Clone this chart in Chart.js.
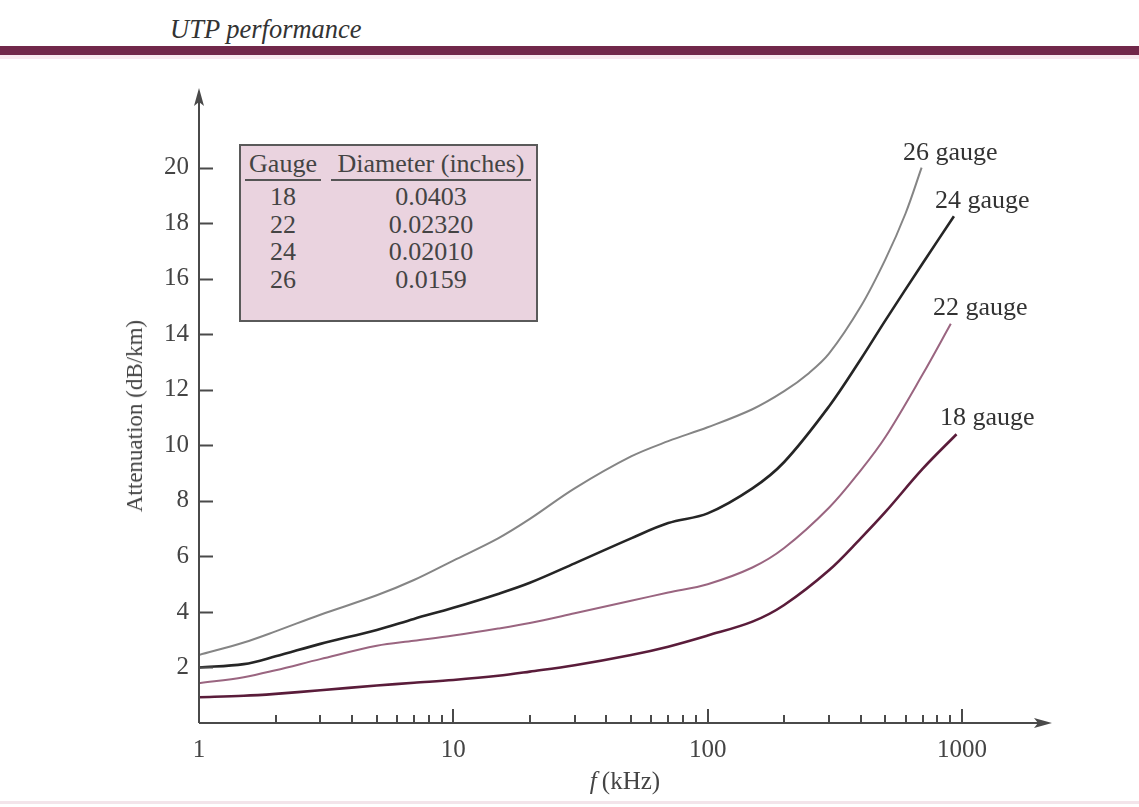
<!DOCTYPE html>
<html>
<head>
<meta charset="utf-8">
<script src="https://cdn.jsdelivr.net/npm/chart.js@4.4.1/dist/chart.umd.min.js"></script>
<style>
  body { margin: 0; background: #fff; font-family: 'Liberation Serif', 'DejaVu Serif', serif; color: #333; }
  #wrap { position: relative; width: 1139px; height: 807px; overflow: hidden; }
  #myChart { position: absolute; left: 0; top: 0; }
  .txt { position: absolute; white-space: nowrap; }
  #pageTitle { left: 170px; top: 14px; font-size: 26.5px; font-style: italic; color: #333; }
  #band { position: absolute; left: 0; top: 46px; width: 1139px; height: 9px; background: #71284a; }
  #bandShade { position: absolute; left: 0; top: 55px; width: 1139px; height: 4px; background: #f8e9ef; }
  #bottomLine { position: absolute; left: 0; top: 801px; width: 1139px; height: 3px; background: #f3e4ea; }
  #yTitle { left: 135px; top: 416px; font-size: 23px; color: #444; transform: translate(-50%, -50%) rotate(-90deg); }
  #xTitle { left: 625px; top: 781px; font-size: 25px; color: #444; transform: translate(-50%, -50%); }
  .gl { font-size: 26px; color: #333; transform: translateY(-50%); }
  #tbl { position: absolute; left: 239px; top: 144px; width: 295px; height: 174px; background: #ead3df; border: 2px solid #5a5a5a; }
  .cell { position: absolute; font-size: 26px; color: #444; text-align: center; transform: translateY(-50%); }
  .c1 { left: 4px; width: 76px; }
  .c2 { left: 90px; width: 200px; }
  .uline { position: absolute; top: 33px; height: 2px; background: #555; }
</style>
</head>
<body>
<div id="wrap">
  <div class="txt" id="pageTitle">UTP performance</div>
  <div id="band"></div>
  <div id="bandShade"></div>
  <div id="bottomLine"></div>
  <canvas id="myChart" width="1139" height="807"></canvas>
  <div class="txt" id="yTitle">Attenuation (dB/km)</div>
  <div class="txt" id="xTitle"><i>f</i>&thinsp;(kHz)</div>
  <div class="txt gl" style="left:903px;top:152px;">26 gauge</div>
  <div class="txt gl" style="left:935px;top:200px;">24 gauge</div>
  <div class="txt gl" style="left:933px;top:307px;">22 gauge</div>
  <div class="txt gl" style="left:940px;top:417px;">18 gauge</div>
  <div id="tbl"></div>
</div>
<script>
'use strict';

// table in the corner
const gauges = ['18', '22', '24', '26'];
const diameters = ['0.0403', '0.02320', '0.02010', '0.0159'];

// curves (f in kHz, attenuation dB/km)
const freq26 = [1, 1.5, 2, 3, 5, 7, 10, 15, 20, 30, 50, 70, 100, 150, 200, 250, 300, 400, 500, 600, 694];
const att26 = [2.45, 2.9, 3.3, 3.9, 4.6, 5.15, 5.85, 6.65, 7.35, 8.45, 9.6, 10.15, 10.65, 11.3, 11.95, 12.6, 13.3, 15.0, 16.7, 18.35, 20.0];

const freq24 = [1, 1.5, 2, 3, 5, 7, 10, 15, 20, 30, 50, 70, 100, 150, 200, 300, 400, 500, 700, 930];
const att24 = [2.0, 2.12, 2.4, 2.85, 3.35, 3.75, 4.15, 4.65, 5.05, 5.75, 6.65, 7.2, 7.55, 8.45, 9.4, 11.4, 13.1, 14.5, 16.55, 18.25];

const freq22 = [1, 1.5, 2, 3, 5, 7, 10, 15, 20, 30, 50, 70, 100, 150, 200, 300, 400, 500, 700, 904];
const att22 = [1.43, 1.65, 1.9, 2.3, 2.78, 2.96, 3.15, 3.4, 3.6, 3.95, 4.4, 4.7, 5.0, 5.6, 6.3, 7.75, 9.1, 10.3, 12.55, 14.38];

const freq18 = [1, 1.5, 2, 3, 5, 7, 10, 15, 20, 30, 50, 70, 100, 150, 200, 300, 400, 500, 700, 952];
const att18 = [0.93, 0.98, 1.05, 1.18, 1.35, 1.45, 1.55, 1.7, 1.85, 2.08, 2.45, 2.75, 3.15, 3.65, 4.25, 5.5, 6.65, 7.6, 9.15, 10.4];

const yTicks = [2, 4, 6, 8, 10, 12, 14, 16, 18, 20];
const xLabelTicks = [1, 10, 100, 1000];
const xMinorTicks = [2, 3, 4, 5, 6, 7, 8, 9, 20, 30, 40, 50, 60, 70, 80, 90, 200, 300, 400, 500, 600, 700, 800, 900];

function fillTable() {
    const tbl = document.getElementById('tbl');
    let html = '<div class="cell c1" style="top:18px">Gauge</div>' +
        '<div class="cell c2" style="top:18px">Diameter (inches)</div>' +
        '<div class="uline" style="left:4px;width:76px"></div>' +
        '<div class="uline" style="left:90px;width:200px"></div>';
    const rowTops = [51, 79, 106, 134];
    for (let i = 0; i < gauges.length; i++) {
        html += `<div class="cell c1" style="top:${rowTops[i]}px">${gauges[i]}</div>`;
        html += `<div class="cell c2" style="top:${rowTops[i]}px">${diameters[i]}</div>`;
    }
    tbl.innerHTML = html;
}
fillTable();

function toPoints(xs, ys) {
    const pts = [];
    for (let i = 0; i < xs.length; i++) {
        pts.push({x: xs[i], y: ys[i]});
    }
    return pts;
}

// axis lines, arrows and the inward tick marks
const axesPlugin = {
    id: 'axesPlugin',
    afterDraw(chart) {
        const ctx = chart.ctx;
        const area = chart.chartArea;
        const xs = chart.scales.x;
        const ys = chart.scales.y;
        const x0 = xs.getPixelForValue(1);
        const y0 = ys.getPixelForValue(0);
        ctx.save();
        ctx.strokeStyle = '#4a4a4a';
        ctx.fillStyle = '#4a4a4a';
        ctx.lineWidth = 2;
        ctx.beginPath();
        ctx.moveTo(x0, y0);
        ctx.lineTo(area.right - 6, y0);
        ctx.moveTo(x0, y0);
        ctx.lineTo(x0, area.top + 6);
        ctx.stroke();
        // arrow heads
        ctx.beginPath();
        ctx.moveTo(area.right, y0);
        ctx.lineTo(area.right - 18, y0 - 5);
        ctx.lineTo(area.right - 14, y0);
        ctx.lineTo(area.right - 18, y0 + 5);
        ctx.closePath();
        ctx.fill();
        ctx.beginPath();
        ctx.moveTo(x0, area.top);
        ctx.lineTo(x0 - 5, area.top + 18);
        ctx.lineTo(x0, area.top + 14);
        ctx.lineTo(x0 + 5, area.top + 18);
        ctx.closePath();
        ctx.fill();

        ctx.lineWidth = 2;
        ctx.beginPath();
        for (let i = 0; i < yTicks.length; i++) {
            const py = Math.round(ys.getPixelForValue(yTicks[i])) + 0.5;
            ctx.moveTo(x0, py);
            ctx.lineTo(x0 + 14, py);
        }
        for (let i = 1; i < xLabelTicks.length; i++) {
            const px = Math.round(xs.getPixelForValue(xLabelTicks[i]));
            ctx.moveTo(px, y0);
            ctx.lineTo(px, y0 - 14);
        }
        for (let i = 0; i < xMinorTicks.length; i++) {
            const px = Math.round(xs.getPixelForValue(xMinorTicks[i]));
            ctx.moveTo(px, y0);
            ctx.lineTo(px, y0 - 8);
        }
        ctx.stroke();
        ctx.restore();
    }
};

const data = {
    datasets: [
        { label: '26 gauge', data: toPoints(freq26, att26), borderColor: '#858585', borderWidth: 2 },
        { label: '24 gauge', data: toPoints(freq24, att24), borderColor: '#252525', borderWidth: 2.6 },
        { label: '22 gauge', data: toPoints(freq22, att22), borderColor: '#9a6580', borderWidth: 2 },
        { label: '18 gauge', data: toPoints(freq18, att18), borderColor: '#5a1c3a', borderWidth: 2.6 }
    ]
};

const config = {
    type: 'line',
    data: data,
    options: {
        responsive: false,
        animation: false,
        devicePixelRatio: 1,
        layout: { padding: { left: 0, top: 88, right: 87, bottom: 0 } },
        elements: {
            point: { radius: 0 },
            line: { tension: 0.35, fill: false }
        },
        plugins: { legend: { display: false }, tooltip: { enabled: false } },
        scales: {
            x: {
                type: 'logarithmic',
                min: 1,
                max: 2260,
                border: { display: false },
                grid: { display: false, drawTicks: false },
                afterBuildTicks: (scale) => {
                    scale.ticks = xLabelTicks.map(v => ({ value: v }));
                },
                afterFit: (scale) => { scale.height = 84; },
                ticks: {
                    autoSkip: false,
                    maxRotation: 0,
                    padding: 12,
                    color: '#444',
                    font: { family: 'Liberation Serif', size: 25 },
                    callback: (v) => String(v)
                }
            },
            y: {
                min: 0,
                max: 22.87,
                border: { display: false },
                grid: { display: false, drawTicks: false },
                afterBuildTicks: (scale) => {
                    scale.ticks = yTicks.map(v => ({ value: v }));
                },
                afterFit: (scale) => { scale.width = 199; },
                ticks: {
                    padding: 10,
                    color: '#444',
                    font: { family: 'Liberation Serif', size: 25 },
                    callback: (v) => String(v)
                }
            }
        }
    },
    plugins: [axesPlugin]
};

let canvasChart = document.getElementById('myChart');
const myChart = new Chart(canvasChart, config);
</script>
</body>
</html>
